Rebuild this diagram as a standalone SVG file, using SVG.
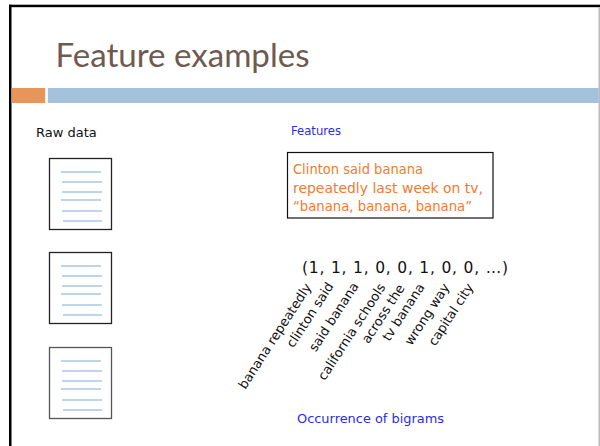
<svg xmlns="http://www.w3.org/2000/svg" xmlns:xlink="http://www.w3.org/1999/xlink" width="600" height="446" viewBox="0 0 600 446">
<style>
.body{font-family:"DejaVu Sans","Verdana",sans-serif;}
.title{font-family:Lato,"Noto Sans",sans-serif;font-size:33px;fill:#6e5a4f;}
.blue{fill:#2a2af2;}
.orange{fill:#f47a2e;font-size:13.5px;}
.lbl{font-size:13px;fill:#111;text-anchor:end;}
.docline{stroke:#a8c6e0;stroke-width:1.5;}
</style>
<defs>
<g id="doc">
<rect x="0.5" y="0.5" width="62" height="71" fill="#fff" stroke="currentColor" stroke-width="1.3"/>
<line class="docline" x1="12" y1="14" x2="52" y2="14"/>
<line class="docline" x1="13" y1="24" x2="53" y2="24"/>
<line class="docline" x1="13" y1="34" x2="53" y2="34"/>
<line class="docline" x1="12" y1="42" x2="52" y2="42"/>
<line class="docline" x1="13" y1="53" x2="53" y2="53"/>
<line class="docline" x1="14" y1="63" x2="53" y2="63"/>
</g>
</defs>
<rect width="600" height="446" fill="#fff"/>
<g id="frame">
<rect x="9" y="4.7" width="591" height="2.5" fill="#000"/>
<rect x="9" y="4.7" width="2.5" height="442" fill="#000"/>
<rect x="598.5" y="7" width="1.5" height="440" fill="#bbb"/>
</g>
<g id="title">
<text class="title" x="55.5" y="67" textLength="254" lengthAdjust="spacingAndGlyphs">Feature examples</text>
</g>
<g id="bars">
<rect x="11.5" y="88" width="33.7" height="15" fill="#e8955a"/>
<rect x="47.8" y="88" width="551" height="15" fill="#a4c2db"/>
</g>
<g id="raw-data-label">
<text class="body" x="36" y="137" font-size="13" fill="#111">Raw data</text>
</g>
<g id="doc1" color="#222"><use xlink:href="#doc" x="49" y="158"/></g>
<g id="doc2" color="#222"><use xlink:href="#doc" x="49" y="252"/></g>
<g id="doc3" color="#555"><use xlink:href="#doc" x="49" y="347"/></g>
<g id="features-label">
<text class="body blue" x="291" y="135" font-size="11.5" textLength="50" lengthAdjust="spacingAndGlyphs">Features</text>
</g>
<g id="text-box">
<rect x="287.5" y="152.5" width="205.5" height="65.5" fill="#fff" stroke="#111" stroke-width="1.2"/>
<text class="body orange" x="293" y="174" textLength="130" lengthAdjust="spacingAndGlyphs">Clinton said banana</text>
<text class="body orange" x="293" y="192.5" textLength="190" lengthAdjust="spacingAndGlyphs">repeatedly last week on tv,</text>
<text class="body orange" x="293" y="211" textLength="179" lengthAdjust="spacingAndGlyphs">“banana, banana, banana”</text>
</g>
<g id="vector">
<text class="body" x="302" y="273" font-size="15.5" fill="#111" textLength="206" lengthAdjust="spacing">(1, 1, 1, 0, 0, 1, 0, 0, …)</text>
</g>
<g id="bigram-labels" class="body">
<text class="lbl" transform="translate(312,287) rotate(-57)">banana repeatedly</text>
<text class="lbl" transform="translate(334,286) rotate(-57)">clinton said</text>
<text class="lbl" transform="translate(359,286) rotate(-57)">said banana</text>
<text class="lbl" transform="translate(386,287) rotate(-57)">california schools</text>
<text class="lbl" transform="translate(405,288) rotate(-57)">across the</text>
<text class="lbl" transform="translate(425,287) rotate(-57)">tv banana</text>
<text class="lbl" transform="translate(450,287) rotate(-57)">wrong way</text>
<text class="lbl" transform="translate(474,287) rotate(-57)">capital city</text>
</g>
<g id="occurrence-label">
<text class="body blue" x="297" y="423" font-size="13" textLength="147" lengthAdjust="spacingAndGlyphs">Occurrence of bigrams</text>
</g>
<g id="connectors"/>
</svg>
